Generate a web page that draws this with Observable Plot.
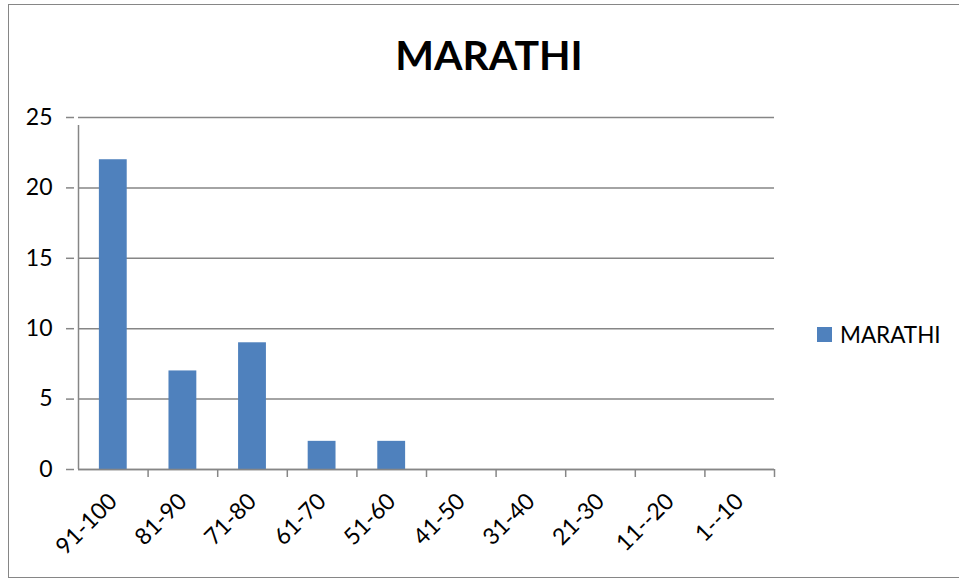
<!DOCTYPE html>
<html>
<head>
<meta charset="utf-8">
<script src="https://cdn.jsdelivr.net/npm/d3@7"></script>
<script src="https://cdn.jsdelivr.net/npm/@observablehq/plot@0.6"></script>
<style>
  html, body { margin: 0; padding: 0; background: #fff; }
  #wrap { position: relative; width: 959px; height: 580px; font-family: Lato, "Open Sans", sans-serif; }
  #border { position: absolute; left: 8px; top: 4px; width: 952px; height: 574px; border: 1.5px solid #868686; box-sizing: border-box; }
  #title { position: absolute; left: 0; width: 978px; top: 34px; text-align: center; font-size: 41px; font-weight: bold; color: #000; line-height: 1; }
  #legend { position: absolute; left: 817px; top: 321px; display: flex; align-items: center; font-size: 22.5px; color: #000; }
  #legend .sw { width: 15px; height: 15px; background: #4F81BD; margin-right: 8px; }
  #chart { position: absolute; left: 0; top: 0; }
</style>
</head>
<body>
<div id="wrap">
  <div id="border"></div>
  <div id="chart"></div>
  <div id="title"></div>
  <div id="legend"><div class="sw"></div><span id="legtext"></span></div>
</div>
<script>
const title = "MARATHI";
const seriesName = "MARATHI";
const categories = ["91-100", "81-90", "71-80", "61-70", "51-60", "41-50", "31-40", "21-30", "11--20", "1--10"];
const values = [22, 7, 9, 2, 2, 0, 0, 0, 0, 0];
const yTicks = [0, 5, 10, 15, 20, 25];
const barColor = "#4F81BD";
const gridColor = "#868686";

const data = categories.map((c, i) => ({cat: c, value: values[i]}));

const W = 959, H = 580;
const mL = 78, mR = 185, mT = 117, mB = 111;
const step = (W - mL - mR) / categories.length;

const chart = Plot.plot({
  width: W,
  height: H,
  marginLeft: mL,
  marginRight: mR,
  marginTop: mT,
  marginBottom: mB,
  style: {fontFamily: "Lato, 'Open Sans', sans-serif", fontSize: "23px", color: "#000", background: "transparent"},
  x: {domain: categories, paddingInner: 0.6, paddingOuter: 0.3, round: false, label: null},
  y: {domain: [0, 25], label: null},
  marks: [
    Plot.gridY(yTicks, {stroke: gridColor, strokeOpacity: 1, strokeWidth: 1.5}),
    Plot.barY(data, {x: "cat", y: "value", fill: barColor}),
    Plot.ruleY([0], {stroke: gridColor, strokeWidth: 1.5}),
    Plot.ruleX(categories, {x: d => d, dx: step / 2, y1: 0, y2: 0, insetBottom: -8, stroke: gridColor, strokeWidth: 1.5}),
    Plot.ruleX([categories[0]], {x: d => d, dx: -step / 2, y1: 0, y2: 25, insetBottom: -8, stroke: gridColor, strokeWidth: 1.5}),
    Plot.axisY(yTicks, {tickSize: 8, tickPadding: 14, stroke: gridColor, strokeWidth: 1.5, strokeOpacity: 1, fill: "#000", fontSize: 23, dx: -4}),
    Plot.axisX({tickSize: 0, tickRotate: -45, tickPadding: 28, fill: "#000", fontSize: 23})
  ]
});
document.getElementById("chart").appendChild(chart);
document.getElementById("title").textContent = title;
document.getElementById("legtext").textContent = seriesName;
</script>
</body>
</html>
